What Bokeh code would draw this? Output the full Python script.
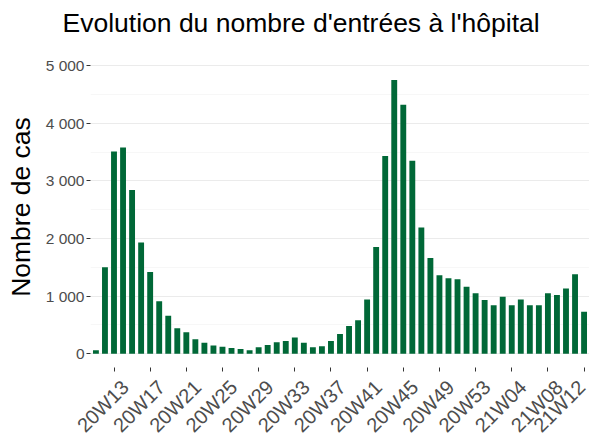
from math import pi
from bokeh.plotting import figure
from bokeh.models import FixedTicker, Range1d, Title
from bokeh.embed import file_html
from bokeh.resources import INLINE

weeks = ["20W11", "20W12", "20W13", "20W14", "20W15", "20W16", "20W17", "20W18", "20W19", "20W20",
         "20W21", "20W22", "20W23", "20W24", "20W25", "20W26", "20W27", "20W28", "20W29", "20W30",
         "20W31", "20W32", "20W33", "20W34", "20W35", "20W36", "20W37", "20W38", "20W39", "20W40",
         "20W41", "20W42", "20W43", "20W44", "20W45", "20W46", "20W47", "20W48", "20W49", "20W50",
         "20W51", "20W52", "20W53", "21W01", "21W02", "21W03", "21W04", "21W05", "21W06", "21W07",
         "21W08", "21W09", "21W10", "21W11", "21W12"]
cases = [60, 1500, 3510, 3580, 2840, 1930, 1420, 910, 660, 440,
         370, 250, 190, 140, 120, 100, 80, 60, 110, 150,
         200, 220, 280, 190, 110, 130, 220, 340, 480, 580,
         940, 1850, 3430, 4750, 4320, 3350, 2190, 1660, 1360, 1310,
         1290, 1160, 1050, 930, 840, 990, 840, 940, 840, 840,
         1050, 1020, 1130, 1380, 730]
shown_weeks = ["20W13", "20W17", "20W21", "20W25", "20W29", "20W33", "20W37", "20W41",
               "20W45", "20W49", "20W53", "21W04", "21W08", "21W12"]
y_ticks = [0, 1000, 2000, 3000, 4000, 5000]
y_tick_labels = ["0", "1 000", "2 000", "3 000", "4 000", "5 000"]
y_minor = [500, 1500, 2500, 3500, 4500]

idx = list(range(len(weeks)))
tick_pos = [weeks.index(w) for w in shown_weeks]

# frame extends a little above 5 000 (white, empty) so the title sits high like the reference
p = figure(frame_width=499, frame_height=321, output_backend="svg", toolbar_location=None,
           x_range=Range1d(-0.6, len(weeks) - 0.4), y_range=Range1d(-240, 5333),
           min_border_left=90, min_border_right=0, min_border_top=0, min_border_bottom=2)
p.outline_line_color = None
p.background_fill_color = "white"

p.vbar(x=idx, top=cases, width=0.65, bottom=0, fill_color="#006837", line_color=None)

title = Title(text="Evolution du nombre d'entrées à l'hôpital", align="left", offset=-28,
              vertical_align="top", standoff=14,
              text_font="Liberation Sans", text_font_size="26.5px", text_font_style="normal",
              text_color="black")
p.add_layout(title, "above")

# axes
p.xaxis.ticker = FixedTicker(ticks=tick_pos)
# leading empty line: anchors the rotated label by its top-right corner, as in the reference
p.xaxis.major_label_overrides = {i: "\n" + w for i, w in zip(tick_pos, shown_weeks)}
p.xaxis.major_label_orientation = pi / 4
p.xaxis.major_label_text_line_height = 1.45
p.yaxis.ticker = FixedTicker(ticks=y_ticks, minor_ticks=y_minor)
p.yaxis.major_label_overrides = {t: l for t, l in zip(y_ticks, y_tick_labels)}
p.yaxis.axis_label = "Nombre de cas"
p.yaxis.axis_label_text_font = "Liberation Sans"
p.yaxis.axis_label_text_font_size = "26.5px"
p.yaxis.axis_label_text_font_style = "normal"
p.yaxis.axis_label_text_color = "black"
p.yaxis.axis_label_standoff = 7

for ax in (p.xaxis, p.yaxis):
    ax.axis_line_color = None
    ax.major_tick_line_color = "#333333"
    ax.major_tick_in = 0
    ax.major_tick_out = 4
    ax.minor_tick_line_color = None
    ax.major_label_text_font = "Liberation Sans"
    ax.major_label_text_color = "#4D4D4D"
    ax.major_label_standoff = 2
p.xaxis.major_label_standoff = 1
p.xaxis.major_label_text_font_size = "20px"
p.yaxis.major_label_text_font_size = "15.5px"

p.xgrid.grid_line_color = None
p.ygrid.grid_line_color = "#EBEBEB"
p.ygrid.grid_line_width = 1
p.ygrid.minor_grid_line_color = "#F2F2F2"
p.ygrid.minor_grid_line_width = 0.6

open("out.html", "w").write(file_html(p, INLINE))
